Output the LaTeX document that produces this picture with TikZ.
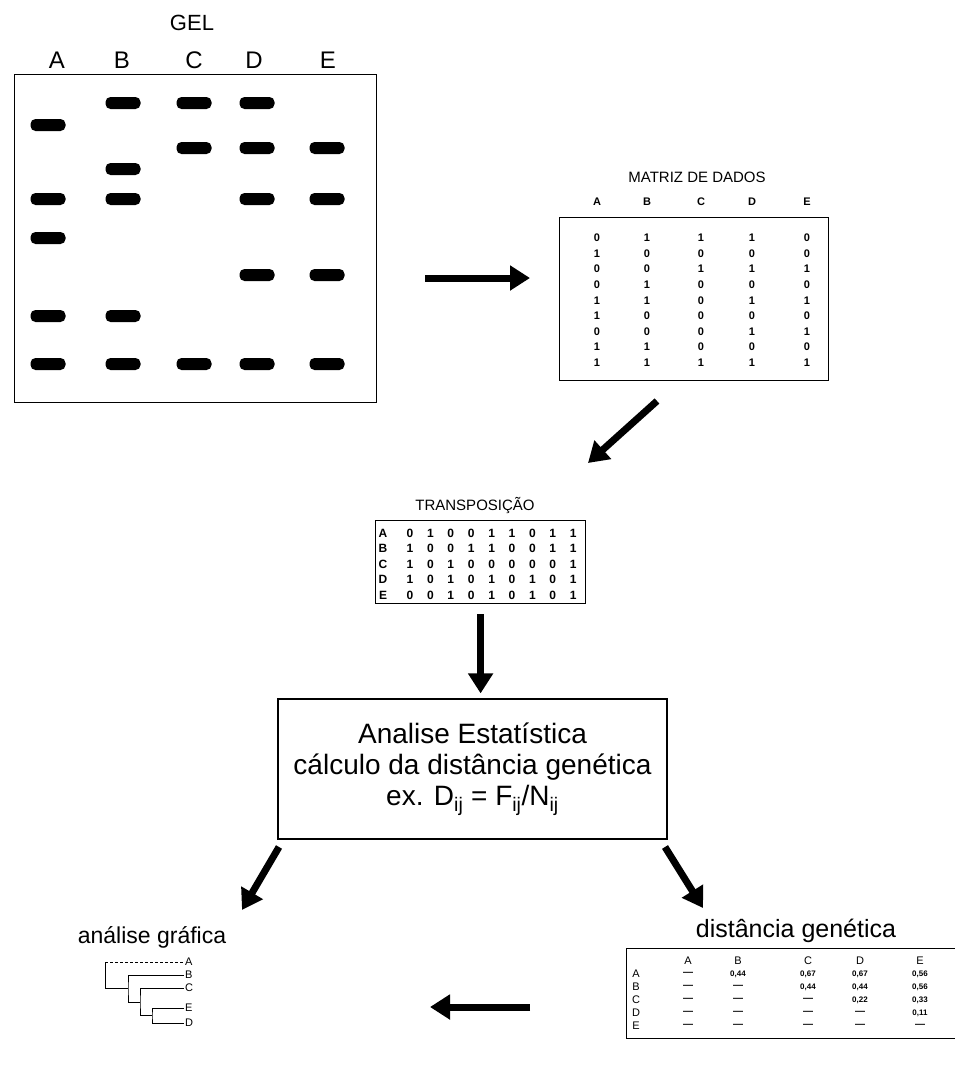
\documentclass[tikz,border=0pt]{standalone}
\usepackage{fontspec}
\setmainfont{Liberation Sans}
\usetikzlibrary{positioning,arrows.meta}

\newcommand{\nodist}{{\fontsize{10}{10}\selectfont\textemdash}}

\tikzset{
  band/.style={fill=black, rounded corners=5pt, minimum width=35pt,
    minimum height=12pt, inner sep=0pt},
  lane/.style={font=\fontsize{24}{24}\selectfont, inner sep=0pt},
  heading/.style={font=\fontsize{#1}{#1}\selectfont, inner sep=0pt},
  panel/.style={draw, line width=1.2pt, anchor=north west, inner sep=0pt},
  bit/.style={font=\fontsize{11}{11}\selectfont\bfseries, inner sep=0pt},
  tbit/.style={font=\fontsize{12}{12}\selectfont\bfseries, inner sep=0pt},
  dhead/.style={font=\fontsize{11}{11}\selectfont, inner sep=0pt},
  dist/.style={font=\fontsize{8}{8}\selectfont\bfseries, inner sep=0pt},
  leaf/.style={font=\fontsize{11}{11}\selectfont, anchor=west, inner sep=1pt},
  bigarrow/.style={line width=7pt, -{Triangle[length=20pt,width=24pt]}},
}

\begin{document}
\begin{tikzpicture}[x=1pt,y=-1pt]
  \useasboundingbox (0,0) rectangle (954,1074);

  % gel
  \node[heading=22] (geltitle) at (192,23) {GEL};
  \node[panel, minimum width=362pt, minimum height=328pt] (gel) at (14,74) {};
  \foreach \l/\x/\lx/\ys in {A/48/57/{125,199,238,316,364},
                             B/123/122/{103,169,199,316,364},
                             C/194/194/{103,148,364},
                             D/257/254/{103,148,199,275,364},
                             E/327/328/{148,199,275,364}} {
    \node[lane] (lane\l) at (\lx,60) {\l};
    \foreach \y in \ys
      \node[band] (band\l\y) at (\x,\y) {};
  }

  % matriz de dados e transposicao
  \node[heading=15] (mtitle) at (697,177) {MATRIZ DE DADOS};
  \node[panel, minimum width=269pt, minimum height=163pt] (mbox) at (559,217) {};
  \node[heading=15] (ttitle) at (475,505) {TRANSPOSIÇÃO};
  \node[panel, minimum width=210pt, minimum height=83pt] (tbox) at (375,520) {};
  \foreach \l/\x/\bits [count=\i] in {A/597/{0,1,0,0,1,1,0,1,1},
                                      B/647/{1,0,0,1,1,0,0,1,1},
                                      C/701/{1,0,1,0,0,0,0,0,1},
                                      D/752/{1,0,1,0,1,0,1,0,1},
                                      E/807/{0,0,1,0,1,0,1,0,1}} {
    \node[bit] (mhead\l) at (\x,202) {\l};
    \node[tbit] (trow\l) at (383,{533+15.5*(\i-1)}) {\l};
    \foreach \b [count=\j] in \bits {
      \node[bit] (m\l\j) at (\x,{238+15.6*(\j-1)}) {\b};
      \node[tbit] (t\l\j) at ({410+20.4*(\j-1)},{533+15.5*(\i-1)}) {\b};
    }
  }

  % analise
  \node[draw, line width=1.2pt, minimum width=389pt, minimum height=140pt,
        align=center, font=\fontsize{28}{31}\selectfont] (stat) at (472.5,769)
    {Analise Estatística\\cálculo da distância genética\\
     ex. D\textsubscript{ij} = F\textsubscript{ij}/N\textsubscript{ij}};

  % distancia genetica
  \node[heading=25] (dtitle) at (796,931) {distância genética};
  \node[panel, minimum width=340pt, minimum height=90pt] (dbox) at (626,948) {};
  \foreach \c/\x [count=\j] in {A/688,B/738,C/808,D/860,E/920}
    \node[dhead] (dcol\j) at (\x,961) {\c};
  \foreach \r/\vals [count=\i] in {A/{\nodist,{0,44},{0,67},{0,67},{0,56}},
      B/{\nodist,\nodist,{0,44},{0,44},{0,56}},
      C/{\nodist,\nodist,\nodist,{0,22},{0,33}},
      D/{\nodist,\nodist,\nodist,\nodist,{0,11}},
      E/{\nodist,\nodist,\nodist,\nodist,\nodist}} {
    \node[dhead] (drow\r) at (636,{974+13*(\i-1)}) {\r};
    \foreach \v [count=\j] in \vals
      \node[dist] (d\r\j) at (dcol\j |- drow\r) {\v};
  }

  % analise grafica
  \node[heading=23] (gtitle) at (152,937) {análise gráfica};
  \foreach \l/\y in {A/962,B/975,C/988,E/1008,D/1023}
    \node[leaf] (leaf\l) at (184,\y) {\l};
  \coordinate (kED) at (152,1015.5);
  \coordinate (kCED) at (140,1002);
  \coordinate (kB) at (128,988.5);
  \coordinate (kroot) at (105,975);
  \draw (leafE.west) -| (kED) |- (leafD.west);
  \draw (leafC.west) -| (kCED) |- (kED);
  \draw (leafB.west) -| (kB) |- (kCED);
  \draw (kroot) |- (kB);
  \draw (kroot) -- (kroot |- leafA.west);
  \draw[densely dashed] (kroot |- leafA.west) -- (leafA.west);

  % setas
  \coordinate (a1s) at (425,278);  \coordinate (a1e) at (530,278);
  \coordinate (a2s) at (657,401);  \coordinate (a2e) at (588,463);
  \coordinate (a4s) at (279,847);  \coordinate (a4e) at (242,910);
  \coordinate (a5s) at (665,847);  \coordinate (a5e) at (703,908);
  \coordinate (a6s) at (530,1007); \coordinate (a6e) at (430,1007);
  \draw[bigarrow] (a1s) -- (a1e);
  \draw[bigarrow] (a2s) -- (a2e);
  \draw[bigarrow, shorten <=10pt, shorten >=5pt] (tbox.south) -- (tbox.south |- stat.north);
  \draw[bigarrow] (a4s) -- (a4e);
  \draw[bigarrow] (a5s) -- (a5e);
  \draw[bigarrow] (a6s) -- (a6e);
\end{tikzpicture}
\end{document}
